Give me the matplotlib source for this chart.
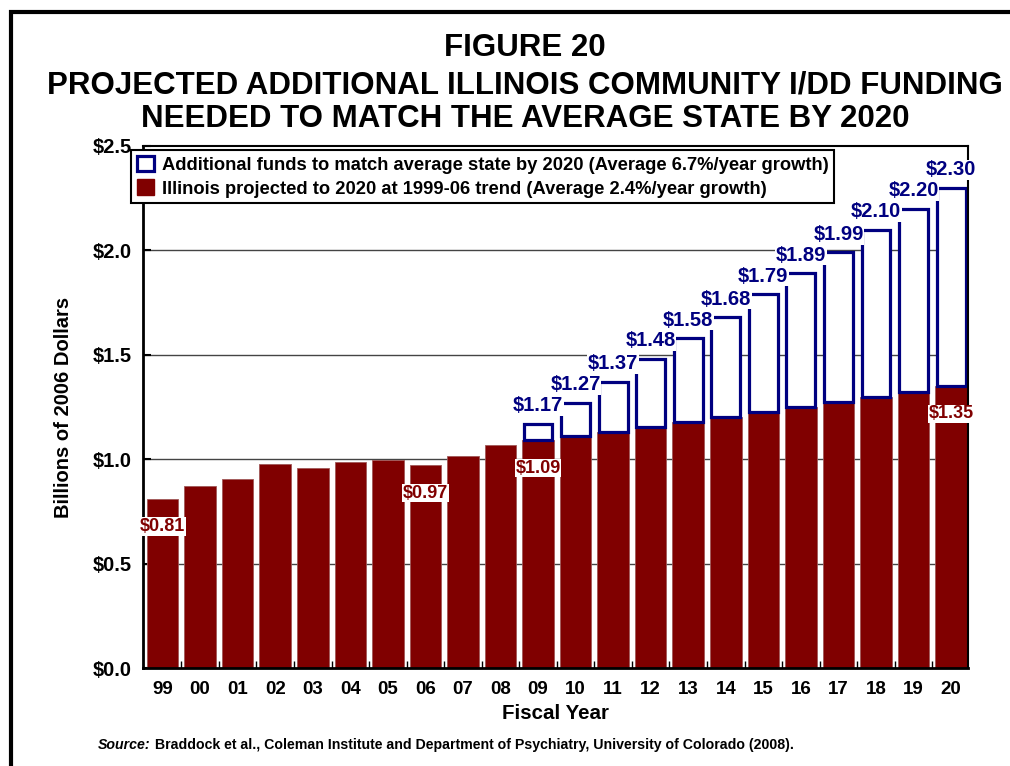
import matplotlib
matplotlib.use('Agg')
import matplotlib.pyplot as plt
from matplotlib.patches import Patch, Rectangle
import numpy as np

plt.rcParams['font.family'] = ['Liberation Sans', 'DejaVu Sans']
plt.rcParams['font.weight'] = 'bold'

years = ['99', '00', '01', '02', '03', '04', '05', '06', '07', '08', '09',
         '10', '11', '12', '13', '14', '15', '16', '17', '18', '19', '20']
illinois = [0.81, 0.87, 0.905, 0.977, 0.956, 0.985, 0.998, 0.97, 1.017, 1.066, 1.09,
            1.111, 1.128, 1.153, 1.176, 1.204, 1.224, 1.249, 1.272, 1.297, 1.321, 1.35]
# totals needed to match the average state, FY09 onward
match_years = ['09', '10', '11', '12', '13', '14', '15', '16', '17', '18', '19', '20']
match_total = [1.17, 1.27, 1.37, 1.48, 1.58, 1.68, 1.79, 1.89, 1.99, 2.10, 2.20, 2.30]
red_labeled = ['99', '06', '09', '20']

navy = '#000080'
maroon = '#800000'

fig = plt.figure(figsize=(10.1, 7.66), dpi=100)
ax = fig.add_axes([0.1416, 0.1279, 0.8168, 0.6815])

x = np.arange(len(years))
ax.bar(x, illinois, width=0.84, color=maroon, edgecolor='#a05858', linewidth=0.6, zorder=2)

mx = np.array([years.index(y) for y in match_years])
base = np.array([illinois[i] for i in mx])
ax.bar(mx, np.array(match_total) - base, bottom=base, width=0.77,
       facecolor='white', edgecolor=navy, linewidth=2.3, zorder=2.2)

for i, tot in zip(mx, match_total):
    ax.annotate(f'${tot:.2f}', (i, tot), xytext=(0, 13), textcoords='offset points',
                ha='center', va='center', color=navy, fontsize=14.5, fontweight='bold',
                bbox=dict(facecolor='white', edgecolor='none', pad=0.5), zorder=5)

for y in red_labeled:
    i = years.index(y)
    v = illinois[i]
    ax.annotate(f'${v:.2f}', (i, v), xytext=(0, -20), textcoords='offset points',
                ha='center', va='center', color=maroon, fontsize=13, fontweight='bold',
                bbox=dict(facecolor='white', edgecolor='none', pad=0.5), zorder=5)

ax.set_xlim(-0.52, 21.45)
ax.set_ylim(0, 2.5)
ax.set_yticks([0, 0.5, 1.0, 1.5, 2.0, 2.5])
ax.set_yticklabels([f'${v:.1f}' for v in [0, 0.5, 1.0, 1.5, 2.0, 2.5]])
ax.set_xticks(x)
ax.set_xticklabels(years)
ax.set_xticks(x[:-1] + 0.5, minor=True)
ax.tick_params(axis='x', which='major', length=0, pad=9, labelsize=13.5)
ax.tick_params(axis='x', which='minor', direction='in', length=5, width=1)
ax.tick_params(axis='y', direction='in', length=6, width=1.5, pad=8, labelsize=14.5)
for lab in ax.get_xticklabels() + ax.get_yticklabels():
    lab.set_fontweight('bold')

for v in [0.5, 1.0, 1.5, 2.0]:
    ax.axhline(v, color='#444444', linewidth=1, zorder=1)

ax.spines['left'].set_linewidth(2)
ax.spines['bottom'].set_linewidth(2)
ax.spines['top'].set_linewidth(1.5)
ax.spines['right'].set_linewidth(1.5)

ax.set_xlabel('Fiscal Year', fontsize=14.8, fontweight='bold', labelpad=5)
ax.set_ylabel('Billions of 2006 Dollars', fontsize=14.5, fontweight='bold', labelpad=14)

handles = [Patch(facecolor='white', edgecolor=navy, linewidth=2.3),
           Patch(facecolor=maroon, edgecolor=maroon)]
labels = ['Additional funds to match average state by 2020 (Average 6.7%/year growth)',
          'Illinois projected to 2020 at 1999-06 trend (Average 2.4%/year growth)']
leg = ax.legend(handles, labels, loc='upper left', bbox_to_anchor=(-0.0145, 0.992),
                borderaxespad=0, fancybox=False, framealpha=1, edgecolor='black',
                prop={'weight': 'bold', 'size': 13.2}, handlelength=0.95, handleheight=0.95,
                handletextpad=0.45, labelspacing=0.3, borderpad=0.3)
leg.get_frame().set_linewidth(1.5)
leg.set_zorder(6)

fig.text(0.52, 0.937, 'FIGURE 20', ha='center', va='center', fontsize=22.5, fontweight='bold')
fig.text(0.52, 0.889, 'PROJECTED ADDITIONAL ILLINOIS COMMUNITY I/DD FUNDING',
         ha='center', va='center', fontsize=22.5, fontweight='bold')
fig.text(0.52, 0.845, 'NEEDED TO MATCH THE AVERAGE STATE BY 2020',
         ha='center', va='center', fontsize=22.5, fontweight='bold')

src = fig.text(0.097, 0.022, 'Source:', ha='left', va='baseline', fontsize=10.2,
               fontweight='bold', fontstyle='italic')
ax.annotate(' Braddock et al., Coleman Institute and Department of Psychiatry, '
            'University of Colorado (2008).', xy=(1, 0), xycoords=src,
            ha='left', va='bottom', fontsize=10.2, fontweight='bold', annotation_clip=False)

# outer frame around the whole figure
fig.patches.append(Rectangle((11 / 1010, -0.05), 1.2, 0.05 + 1 - 12 / 766,
                             transform=fig.transFigure, fill=False,
                             edgecolor='black', linewidth=3, clip_on=False))

fig.savefig('out.png', dpi=100)
